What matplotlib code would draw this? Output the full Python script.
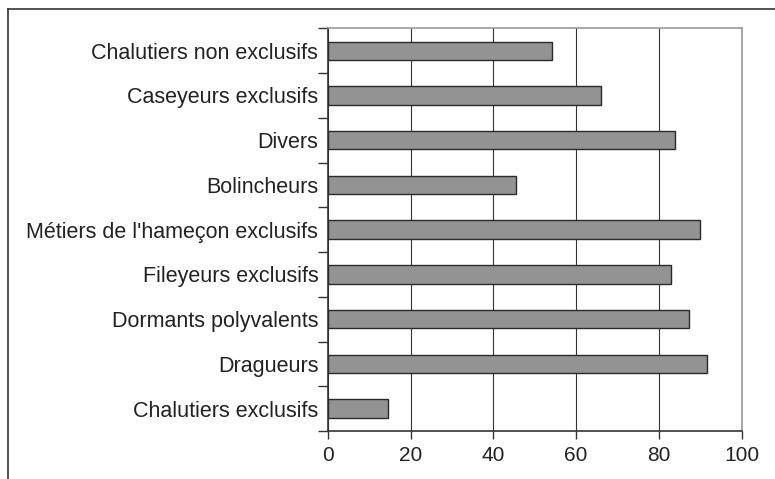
import matplotlib
matplotlib.use("Agg")
import matplotlib.pyplot as plt
from matplotlib.lines import Line2D

categories = [
    "Chalutiers exclusifs",
    "Dragueurs",
    "Dormants polyvalents",
    "Fileyeurs exclusifs",
    "Métiers de l'hameçon exclusifs",
    "Bolincheurs",
    "Divers",
    "Caseyeurs exclusifs",
    "Chalutiers non exclusifs",
]
values = [14.4, 91.7, 87.4, 83.0, 90.0, 45.5, 83.8, 66.1, 54.2]
xticks = [0, 20, 40, 60, 80, 100]

plt.rcParams['font.family'] = ['Liberation Sans', 'DejaVu Sans']

fig = plt.figure(figsize=(7.75, 4.79), dpi=100)
ax = fig.add_axes([0.4232, 0.1002, 0.5336, 0.8407])

ypos = list(range(len(categories)))
ax.barh(ypos, values, height=0.41, color='#939393', edgecolor='#2a2a2a',
        linewidth=1.0, zorder=3)

ax.set_xlim(0, 100)
ax.set_ylim(-0.5, len(categories) - 0.5)
ax.set_xticks(xticks)
ax.set_xticklabels([str(t) for t in xticks], fontsize=15, color='#222222')

# y ticks at category boundaries, labels at centers
ax.set_yticks([i - 0.5 for i in range(len(categories) + 1)])
ax.set_yticklabels([])
ax.set_yticks(ypos, minor=True)
ax.set_yticklabels(categories, minor=True, fontsize=15.5, color='#222222')
ax.tick_params(axis='y', which='minor', length=0, pad=7)
ax.tick_params(axis='y', which='major', length=7, width=1.0, color='#333333', direction='out')
ax.tick_params(axis='x', length=6, width=1.0, color='#333333', direction='out', pad=5)

ax.grid(axis='x', color='#333333', linewidth=0.8, zorder=1)
ax.set_axisbelow(True)

for s in ['left', 'bottom']:
    ax.spines[s].set_color('#333333')
    ax.spines[s].set_linewidth(1.2)
for s in ['right', 'top']:
    ax.spines[s].set_color('#999999')
    ax.spines[s].set_linewidth(1.2)

# figure border (left and top edges)
fig.add_artist(Line2D([8/775, 8/775], [0, 1 - 9/479], transform=fig.transFigure,
                      color='#333333', linewidth=1.2))
fig.add_artist(Line2D([8/775, 1], [1 - 9/479, 1 - 9/479], transform=fig.transFigure,
                      color='#333333', linewidth=1.2))

fig.savefig('out.png', dpi=100)
